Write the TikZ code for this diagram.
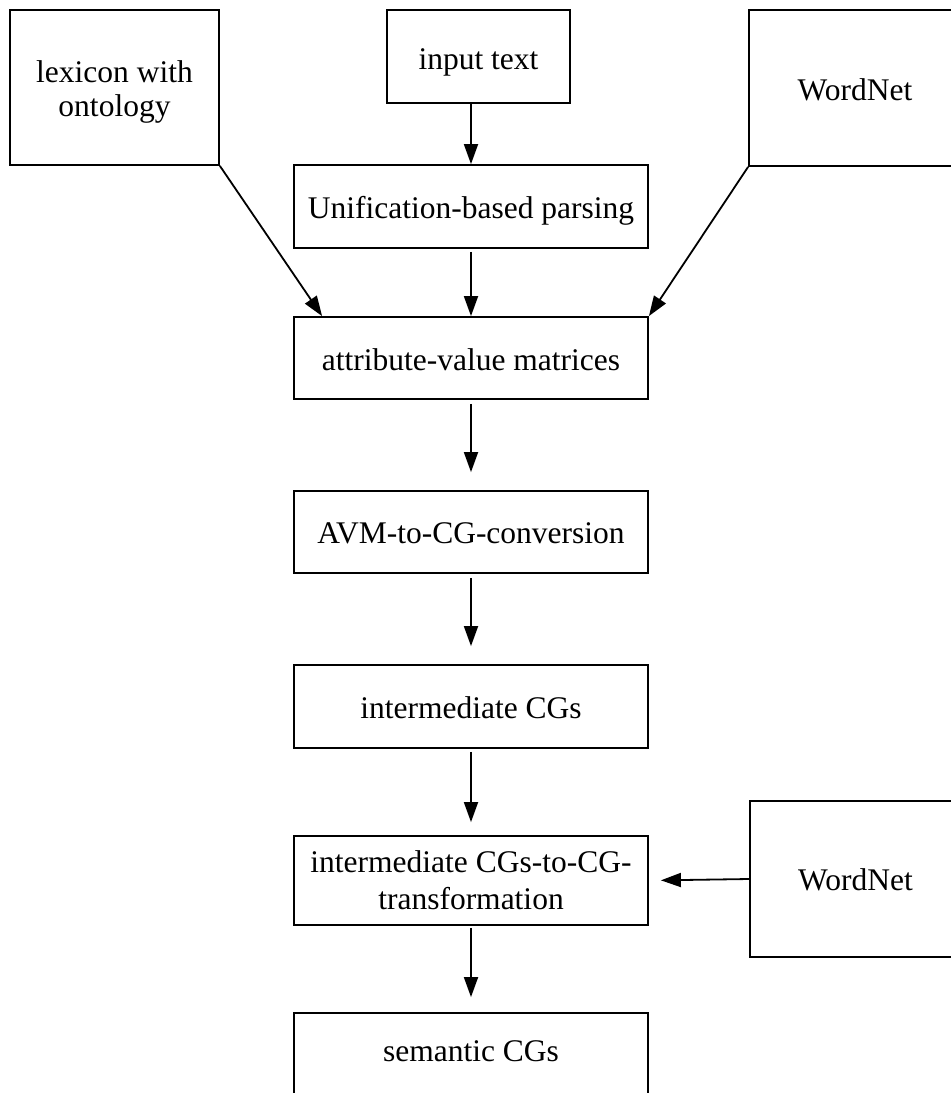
\documentclass[tikz,border=0pt]{standalone}
\usepackage{fontspec}
\setmainfont{Liberation Serif}
\usetikzlibrary{arrows.meta,calc}
% box text, lowered by #1 without changing the size TikZ centres on
\newcommand\boxtext[2]{\raisebox{-#1pt}[\height][\depth]{\begin{tabular}{@{}c@{}}#2\end{tabular}}}
\begin{document}
\begin{tikzpicture}[x=1pt,y=-1pt,
  every node/.style={font=\fontsize{31.5}{36}\selectfont},
  box/.style={draw, line width=1.8pt, rectangle, align=center, inner sep=0pt},
  flow/.style={box, minimum width=354pt, minimum height=83pt},
  arr/.style={line width=1.8pt, -{Triangle[length=20pt,width=14pt]}}]
  \useasboundingbox (0,0) rectangle (951,1093);
  \clip (0,0) rectangle (951,1093);

  % source boxes
  \node[box, minimum width=209pt, minimum height=155pt] (lex) at (114.5,87.5) {\boxtext{4.5}{lexicon with\\[-2pt]ontology}};
  \node[box, minimum width=183pt, minimum height=93pt] (inp) at (478.5,56.5) {\boxtext{6}{input text}};
  \node[box, minimum width=212pt, minimum height=156pt] (wn1) at (855,88) {\boxtext{5}{WordNet}};

  % processing chain
  \node[flow] (unif) at (471,206.5) {\boxtext{5}{Unification-based parsing}};
  \node[flow, minimum height=82pt] (avm) at (471,358) {\boxtext{5}{attribute-value matrices}};
  \node[flow, minimum height=82pt] (conv) at (471,532) {\boxtext{4}{AVM-to-CG-conversion}};
  \node[flow] (icg) at (471,706.5) {\boxtext{5}{intermediate CGs}};
  \node[flow, minimum height=89pt] (trans) at (471,880.5) {\boxtext{3.5}{intermediate CGs-to-CG-\\[1pt]transformation}};
  \node[box, minimum width=211pt, minimum height=156pt] (wn2) at (855.5,879) {\boxtext{4}{WordNet}};
  \node[flow] (sem) at (471,1054.5) {\boxtext{0}{semantic CGs}};

  % connectors
  \draw[arr] (inp.south -| unif.north) -- (unif.north);
  \draw[arr, shorten <=3pt] (unif.south) -- (avm.north);
  \draw[arr] (lex.south east) -- ([xshift=29pt]avm.north west);
  \draw[arr] (wn1.south west) -- (avm.north east);
  \draw[arr, shorten <=4pt, shorten >=18pt] (avm.south) -- (conv.north);
  \draw[arr, shorten <=4pt, shorten >=18pt] (conv.south) -- (icg.north);
  \draw[arr, shorten <=3pt, shorten >=13pt] (icg.south) -- (trans.north);
  \draw[arr, shorten <=2pt, shorten >=15pt] (trans.south) -- (sem.north);
  \draw[arr, shorten >=12pt] (wn2.west) -- (trans.east);
\end{tikzpicture}
\end{document}
